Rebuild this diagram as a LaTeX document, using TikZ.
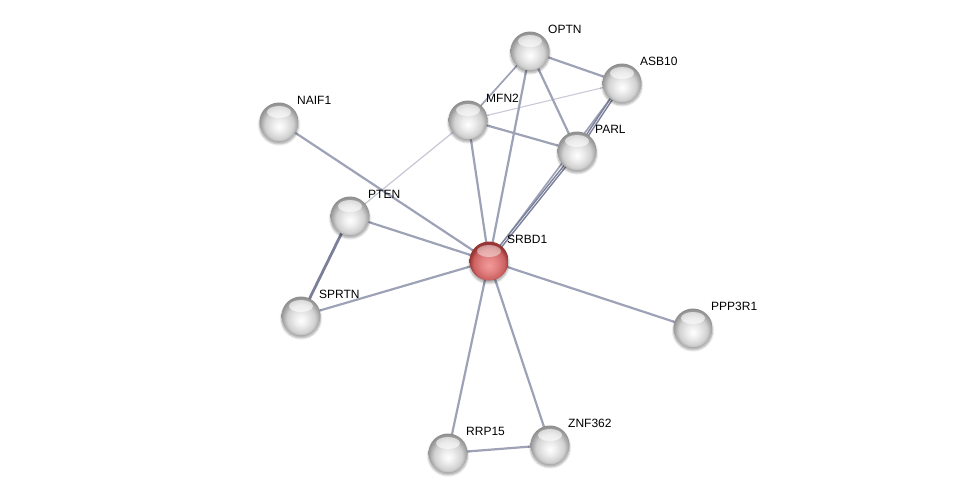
\documentclass[tikz,border=0pt]{standalone}
\usepackage{fontspec}
\setmainfont{Liberation Sans}
\usetikzlibrary{shadows.blur}
\definecolor{rc1}{HTML}{F29A9A}
\definecolor{rc2}{HTML}{E48282}
\definecolor{rc3}{HTML}{CC6262}
\definecolor{rc4}{HTML}{983636}
\definecolor{edgec}{HTML}{9EA2B6}
\definecolor{edgedark}{HTML}{7A809A}
\definecolor{edgelight}{HTML}{C8CBD6}
\pgfdeclareradialshading{gball}{\pgfpoint{0bp}{-6bp}}{color(0bp)=(white); color(8bp)=(white!93!black); color(18bp)=(white!82!black); color(25bp)=(white!60!black); color(31bp)=(white!50!black); color(50bp)=(white!50!black)}
\pgfdeclareradialshading{rball}{\pgfpoint{0bp}{-6bp}}{color(0bp)=(rc1); color(10bp)=(rc2); color(20bp)=(rc3); color(25bp)=(rc4); color(31bp)=(rc4); color(50bp)=(rc4)}
\tikzset{
  x=1pt,y=-1pt,
  ball/.style={circle,minimum size=39,inner sep=0,shading=gball,
    blur shadow={shadow xshift=0pt,shadow yshift=-2.5pt,shadow blur steps=6,shadow opacity=35}},
  rball/.style={ball,shading=rball},
  hl/.style={fill=white,fill opacity=0.6,draw=none},
  lab/.style={font=\fontsize{12}{14}\selectfont,inner sep=0pt,anchor=west},
  ed/.style={draw=edgec,line width=2.2pt},
  edl/.style={draw=edgelight,line width=1.3pt},
  edd/.style={draw=edgedark,line width=2.8pt},
}
\begin{document}
\begin{tikzpicture}
\useasboundingbox (0,0) rectangle (976,499);
% coordinates
\coordinate (cOPTN) at (530,51);
\coordinate (cASB10) at (622,83);
\coordinate (cNAIF1) at (279,122);
\coordinate (cMFN2) at (468,120);
\coordinate (cPARL) at (577,151);
\coordinate (cPTEN) at (350,216);
\coordinate (cSRBD1) at (489,261);
\coordinate (cSPRTN) at (301,316);
\coordinate (cPPP3R1) at (693,328);
\coordinate (cRRP15) at (448,453);
\coordinate (cZNF362) at (550,445);
% edges
\draw[edl] (cPTEN) -- (cMFN2);
\draw[edl,line width=1.1pt] (cMFN2) -- (cASB10);
\draw[ed,line width=1.7pt] (cMFN2) -- (cOPTN);
\draw[ed] (cMFN2) -- (cPARL);
\draw[ed] (cOPTN) -- (cASB10);
\draw[ed] (cOPTN) -- (cPARL);
\draw[ed] (cOPTN) -- (cSRBD1);
\draw[ed] (cMFN2) -- (cSRBD1);
\draw[ed] (cNAIF1) -- (cSRBD1);
\draw[ed] (cPTEN) -- (cSRBD1);
\draw[ed] (cSPRTN) -- (cSRBD1);
\draw[ed] (cPPP3R1) -- (cSRBD1);
\draw[ed] (cRRP15) -- (cSRBD1);
\draw[ed] (cZNF362) -- (cSRBD1);
\draw[ed] (cRRP15) -- (cZNF362);
\draw[edd] (cPTEN) -- (cSPRTN);
\draw[ed,line width=1.7pt] (cSRBD1) -- (cASB10);
\draw[edd,line width=3.6pt] (cSRBD1) -- (cPARL);
\draw[edd,line width=3.6pt] (cPARL) -- (cASB10);
\draw[draw=white!80!edgec,line width=0.6pt] (cSRBD1) -- (cPARL);
\draw[draw=white!80!edgec,line width=0.6pt] (cPARL) -- (cASB10);
% nodes
\foreach \n in {OPTN,ASB10,NAIF1,MFN2,PARL,PTEN,SPRTN,PPP3R1,RRP15,ZNF362}{
  \node[ball] (\n) at (c\n) {};
  \fill[hl] ([yshift=10]c\n) ellipse (12 and 6);
  \node[lab] (l\n) at ([xshift=18,yshift=22]c\n) {\n};
}
\node[rball] (SRBD1) at (cSRBD1) {};
\fill[hl,fill opacity=0.45] ([yshift=10]cSRBD1) ellipse (12 and 6);
\node[lab] (lSRBD1) at ([xshift=18,yshift=22]cSRBD1) {SRBD1};
\end{tikzpicture}
\end{document}
